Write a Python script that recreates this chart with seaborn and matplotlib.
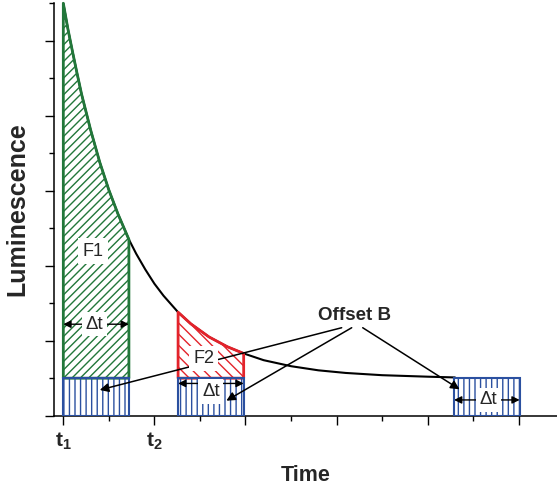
import numpy as np
import pandas as pd
import matplotlib
matplotlib.use("Agg")
import matplotlib.pyplot as plt
import seaborn as sns

# ---- data ----
time = [0.0, 0.05, 0.1, 0.15, 0.2, 0.3, 0.4, 0.5, 0.6, 0.72, 0.8, 0.9, 1.0, 1.1,
        1.26, 1.4, 1.6, 1.8, 1.98, 2.2, 2.5, 2.8, 3.1, 3.5, 4.0, 4.3]
luminescence = [5.5, 5.16, 4.86, 4.57, 4.29, 3.81, 3.38, 3.01, 2.69, 2.35, 2.16, 1.95,
                1.76, 1.60, 1.38, 1.225, 1.05, 0.92, 0.83, 0.74, 0.66, 0.605, 0.57,
                0.54, 0.52, 0.51]
offset_b = 0.5
window_starts = [0.0, 1.26, 4.29]
delta_t = 0.72
f1_window = (0.0, 0.72)
f2_window = (1.26, 1.98)
x_tick_values = [0, 1, 2, 3, 4, 5]
x_tick_labels = [r"$\mathbf{t_1}$", r"$\mathbf{t_2}$", "", "", "", ""]

GREEN = "#22773a"
RED = "#e3232b"
BLUE = "#2b50a0"

sns.set_style("ticks")
plt.rcParams["font.family"] = ["Liberation Sans", "DejaVu Sans"]
plt.rcParams["mathtext.fontset"] = "custom"
plt.rcParams["mathtext.bf"] = "Liberation Sans:bold"
plt.rcParams["mathtext.rm"] = "Liberation Sans"
plt.rcParams["hatch.linewidth"] = 1.0

df = pd.DataFrame({"Time": time, "Luminescence": luminescence})

fig = plt.figure(figsize=(5.57, 4.91), dpi=100)
ax = fig.add_axes([0.097, 0.1534, 0.903, 0.8399])

sns.lineplot(data=df, x="Time", y="Luminescence", color="black", lw=1.5,
             ax=ax, zorder=2, clip_on=False)

# F1 and F2 hatched areas
t = np.array(time)
l = np.array(luminescence)
m1 = (t >= f1_window[0]) & (t <= f1_window[1])
ax.fill_between(t[m1], offset_b, l[m1], facecolor="none", edgecolor=GREEN,
                hatch="////", lw=2, zorder=2.5, clip_on=False)
m2 = (t >= f2_window[0]) & (t <= f2_window[1])
ax.fill_between(t[m2], offset_b, l[m2], facecolor="none", edgecolor=RED,
                hatch="\\\\\\", lw=2, zorder=2.5)

# Offset B windows
ax.bar(window_starts, [offset_b] * len(window_starts), width=delta_t, align="edge",
       facecolor="none", edgecolor=BLUE, hatch="|||", lw=1.5, zorder=3)

# delta-t double arrows + labels
dt_arrows = [(f1_window[0], f1_window[1], 1.22, 0.34, 1.22),
             (f2_window[0], f2_window[1], 0.43, 1.62, 0.32),
             (window_starts[2], window_starts[2] + delta_t, 0.21, 4.67, 0.21)]
for x0, x1, ya, xt, yt in dt_arrows:
    ax.annotate("", xy=(x0, ya), xytext=(x1, ya),
                arrowprops=dict(arrowstyle="<|-|>", color="black", lw=1.0,
                                mutation_scale=11, shrinkA=0, shrinkB=0),
                zorder=4)
    ax.text(xt, yt, "Δt", fontsize=13.5, ha="center", va="center", zorder=6,
            bbox=dict(boxstyle="square,pad=0.2", fc="white", ec="none"))

ax.text(0.33, 2.19, "F1", fontsize=13, ha="center", va="center", zorder=6,
        bbox=dict(boxstyle="square,pad=0.25", fc="white", ec="none"))
ax.text(1.54, 0.76, "F2", fontsize=13, ha="center", va="center", zorder=6,
        bbox=dict(boxstyle="square,pad=0.22", fc="white", ec="none"))

# Offset B callout
ax.text(3.20, 1.34, "Offset B", fontsize=13.5, fontweight="bold", ha="center",
        va="center", zorder=6)
for start, end in [((3.056, 1.173), (0.40, 0.343)),
                   ((3.166, 1.173), (1.79, 0.20)),
                   ((3.287, 1.173), (4.35, 0.352))]:
    ax.annotate("", xy=end, xytext=start,
                arrowprops=dict(arrowstyle="-|>", color="black", lw=1.1,
                                mutation_scale=13, shrinkA=0, shrinkB=0),
                zorder=5)

# axes styling
ax.set_xlim(-0.102, 5.42)
ax.set_ylim(0, 5.5)
ax.set_xticks(x_tick_values)
ax.set_xticklabels(x_tick_labels, fontsize=15)
ax.set_xticks(np.arange(0.5, 5.0, 1.0), minor=True)
ax.set_yticks(np.arange(0, 6, 1))
ax.set_yticklabels([])
ax.set_yticks(np.arange(0.5, 6.0, 1.0), minor=True)
ax.tick_params(which="major", direction="out", length=6.5, width=1.0, color="black", pad=4)
ax.tick_params(which="minor", direction="out", length=3.3, width=1.0, color="black")
for s in ["top", "right"]:
    ax.spines[s].set_visible(False)
for s in ["left", "bottom"]:
    ax.spines[s].set_linewidth(1.1)
    ax.spines[s].set_color("black")

ax.set_xlabel("Time", fontsize=15.5, fontweight="bold")
ax.set_ylabel("Luminescence", fontsize=18, fontweight="bold")
ax.xaxis.set_label_coords(0.5, -0.12)
ax.yaxis.set_label_coords(-0.05, 0.5)

fig.savefig("out.png", dpi=100)
